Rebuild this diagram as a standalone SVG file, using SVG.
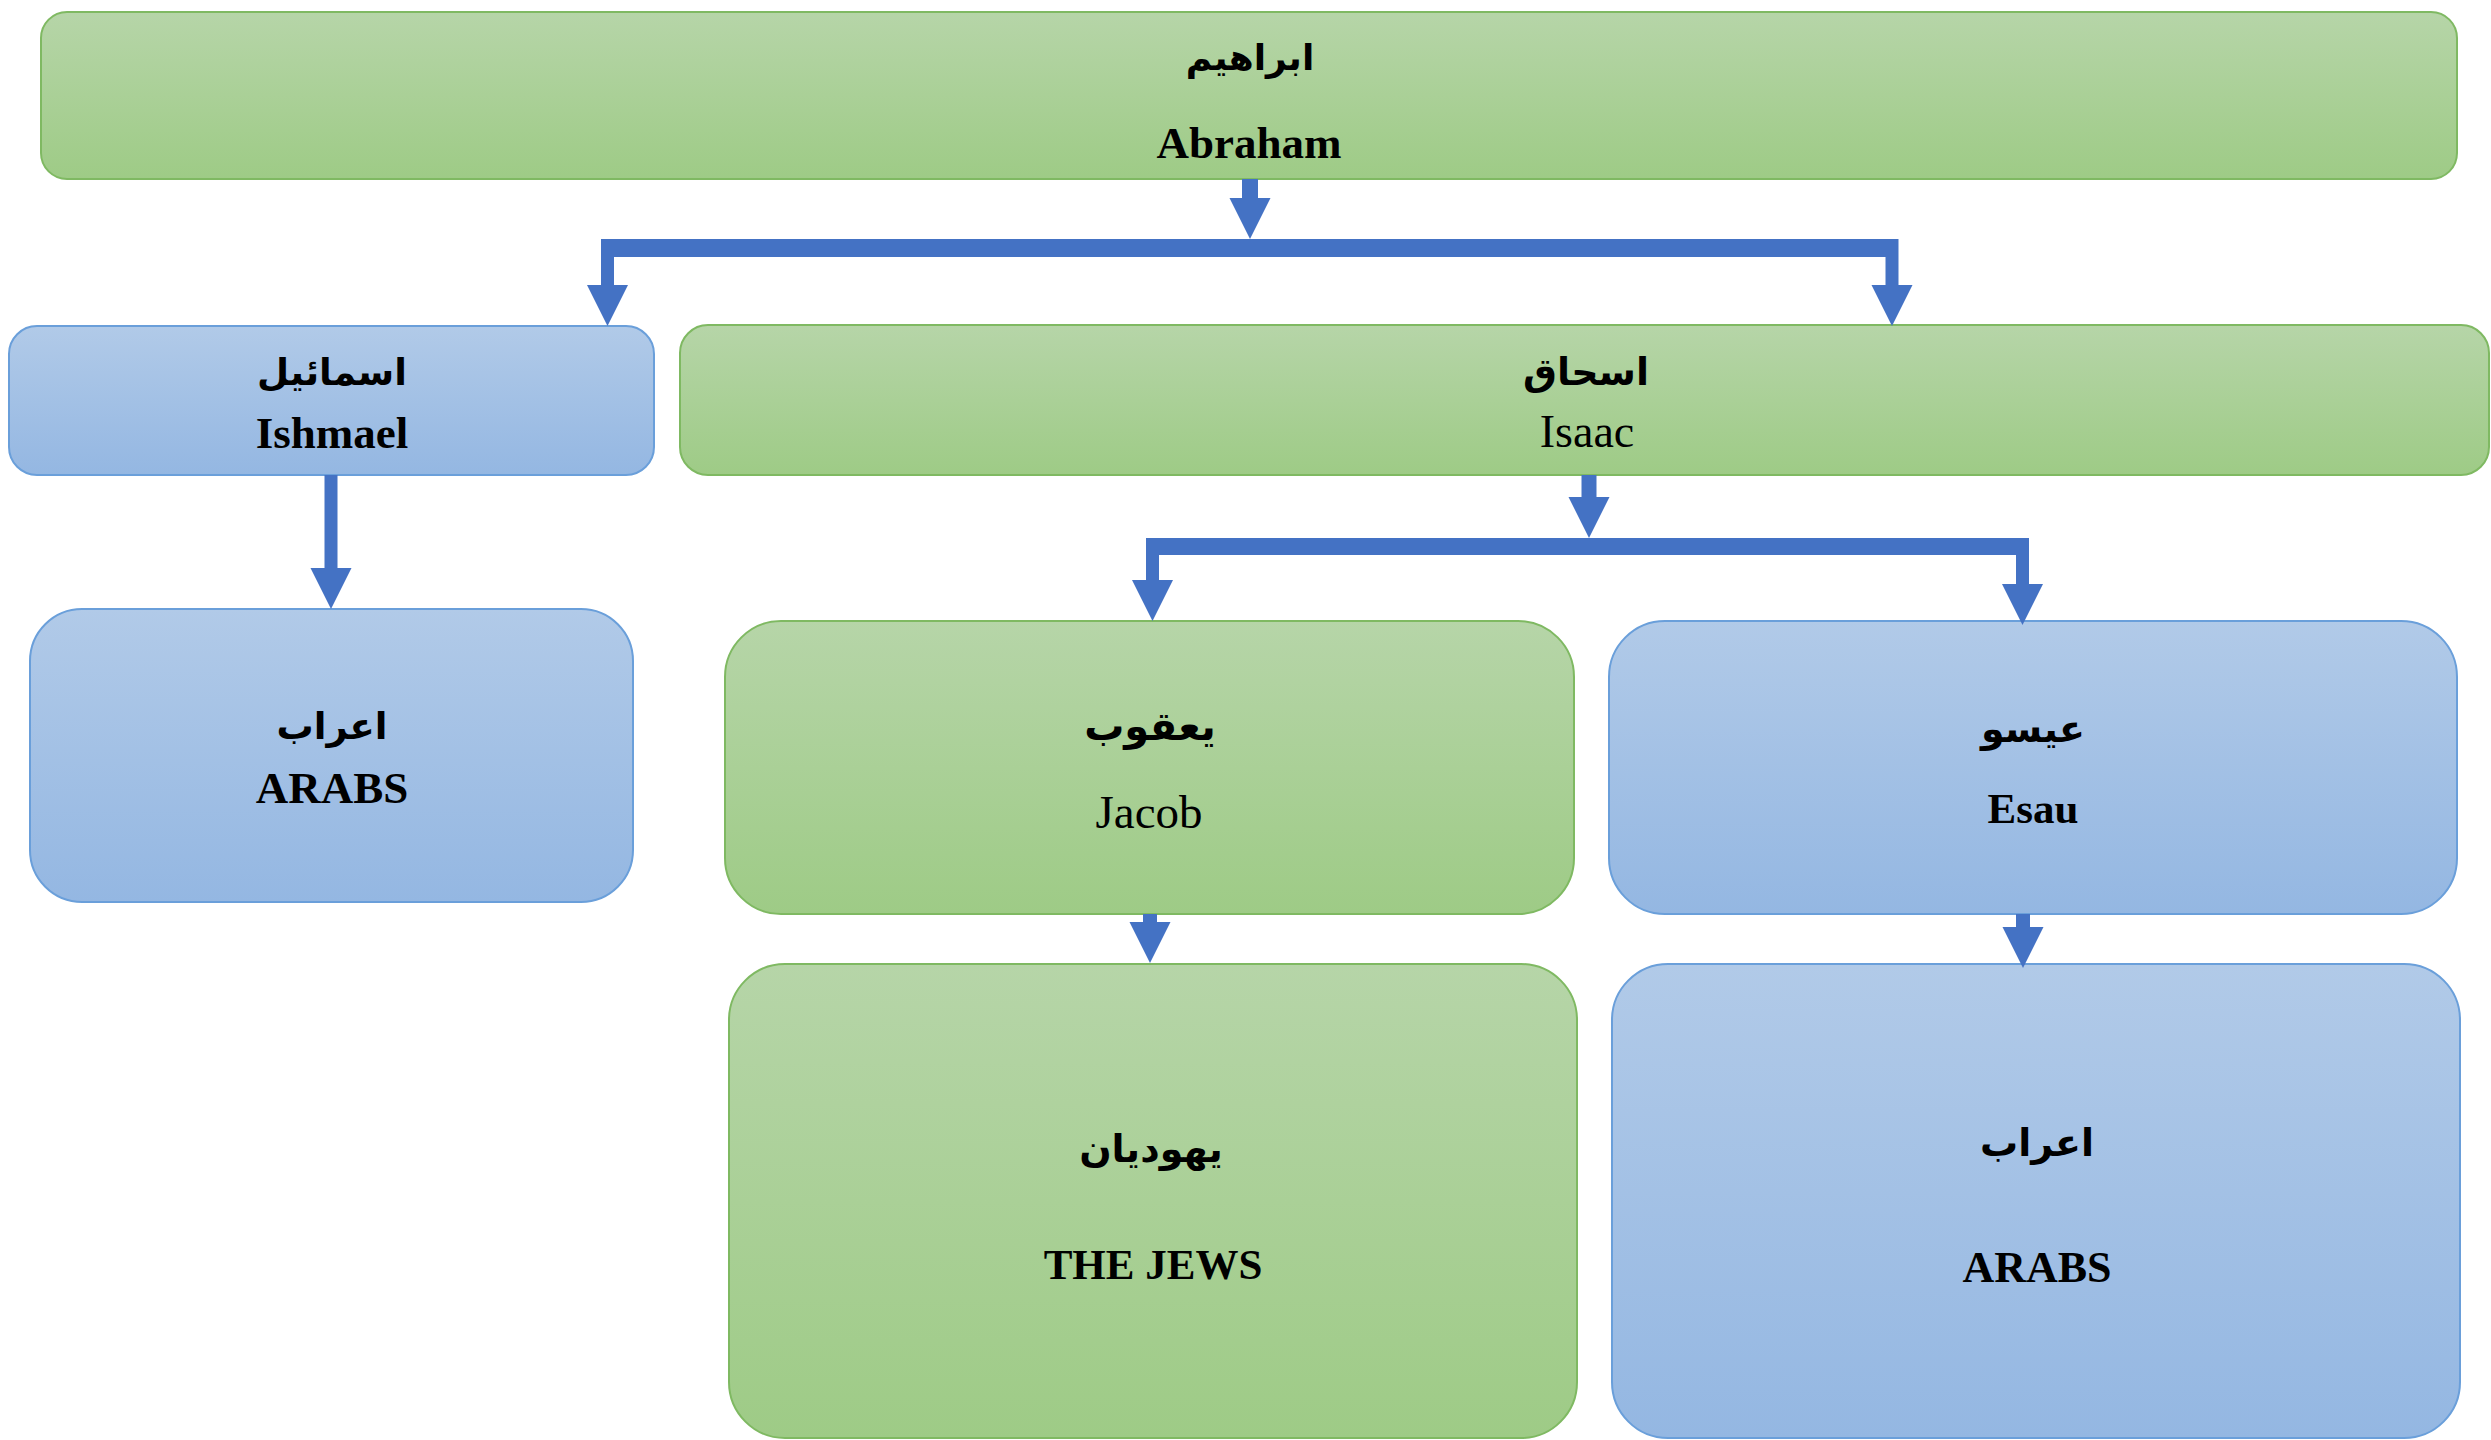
<svg xmlns="http://www.w3.org/2000/svg" width="2491" height="1440" viewBox="0 0 2491 1440">
<defs>
<linearGradient id="gG" x1="0" y1="0" x2="0" y2="1">
<stop offset="0" stop-color="#b6d5a8"/>
<stop offset="1" stop-color="#9ecb86"/>
</linearGradient>
<linearGradient id="gB" x1="0" y1="0" x2="0" y2="1">
<stop offset="0" stop-color="#b1cae8"/>
<stop offset="1" stop-color="#94b7e2"/>
</linearGradient>
<marker id="ah" markerUnits="userSpaceOnUse" markerWidth="42" markerHeight="42" viewBox="0 -21 41 42" refX="0" refY="0" orient="auto">
<path d="M0,-20.5 L41,0 L0,20.5 Z" fill="#4472c4"/>
</marker>
<style>
.green{fill:url(#gG);stroke:#7fb962;stroke-width:2}
.blue{fill:url(#gB);stroke:#6a9fda;stroke-width:2}
.ar{font-family:"DejaVu Sans",sans-serif;font-weight:bold;text-anchor:middle;fill:#000}
.en{font-family:"Liberation Serif",serif;text-anchor:middle;fill:#000}
.b{font-weight:bold}
.c{fill:none;stroke:#4472c4}
</style>
</defs>
<g id="abraham">
<rect class="green" x="41" y="12" width="2416" height="167" rx="26"/>
<text class="ar" x="1250" y="70" font-size="36">ابراهيم</text>
<text class="en b" x="1249" y="158" font-size="45">Abraham</text>
</g>
<g id="ishmael">
<rect class="blue" x="9" y="326" width="645" height="149" rx="28"/>
<text class="ar" x="332" y="385" font-size="37">اسمائيل</text>
<text class="en b" x="332" y="448" font-size="45">Ishmael</text>
</g>
<g id="isaac">
<rect class="green" x="680" y="325" width="1809" height="150" rx="28"/>
<text class="ar" x="1586" y="385" font-size="38">اسحاق</text>
<text class="en" x="1587" y="447" font-size="46">Isaac</text>
</g>
<g id="arabs-ishmael">
<rect class="blue" x="30" y="609" width="603" height="293" rx="52"/>
<text class="ar" x="332" y="739" font-size="37">اعراب</text>
<text class="en b" x="332" y="803" font-size="45">ARABS</text>
</g>
<g id="jacob">
<rect class="green" x="725" y="621" width="849" height="293" rx="56"/>
<text class="ar" x="1150" y="740" font-size="40">يعقوب</text>
<text class="en" x="1149" y="828" font-size="47">Jacob</text>
</g>
<g id="esau">
<rect class="blue" x="1609" y="621" width="848" height="293" rx="56"/>
<text class="ar" x="2033" y="742" font-size="38">عيسو</text>
<text class="en b" x="2033" y="823" font-size="43">Esau</text>
</g>
<g id="jews">
<rect class="green" x="729" y="964" width="848" height="474" rx="56"/>
<text class="ar" x="1151" y="1162" font-size="38">يهوديان</text>
<text class="en b" x="1153" y="1279" font-size="43">THE JEWS</text>
</g>
<g id="arabs-esau">
<rect class="blue" x="1612" y="964" width="848" height="474" rx="56"/>
<text class="ar" x="2037" y="1156" font-size="38">اعراب</text>
<text class="en b" x="2037" y="1282" font-size="44">ARABS</text>
</g>
<g id="connectors">
<path class="c" d="M1250,179 V198" stroke-width="16" marker-end="url(#ah)"/>
<path class="c" d="M601,248 H1898" stroke-width="18"/>
<path class="c" d="M607.5,239 V285" stroke-width="13" marker-end="url(#ah)"/>
<path class="c" d="M1892,239 V285" stroke-width="13" marker-end="url(#ah)"/>
<path class="c" d="M331,475 V568" stroke-width="13" marker-end="url(#ah)"/>
<path class="c" d="M1589,475 V497" stroke-width="15" marker-end="url(#ah)"/>
<path class="c" d="M1146,546.5 H2029" stroke-width="17"/>
<path class="c" d="M1152.5,538 V580" stroke-width="13" marker-end="url(#ah)"/>
<path class="c" d="M2022.5,538 V584" stroke-width="13" marker-end="url(#ah)"/>
<path class="c" d="M1150,914 V922" stroke-width="14" marker-end="url(#ah)"/>
<path class="c" d="M2023,914 V927" stroke-width="14" marker-end="url(#ah)"/>
</g>
</svg>
